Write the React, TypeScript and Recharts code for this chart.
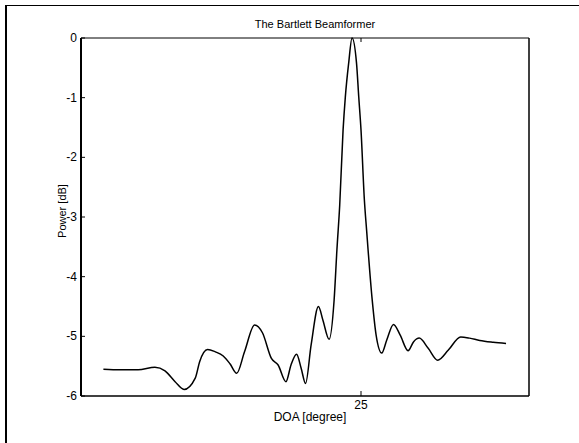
import { LineChart, Line, XAxis, YAxis, Label } from "recharts";

// DOA in degrees, power in dB
const doa: number[] = [
  2.0, 3.5, 5.1, 6.6, 7.5, 8.4, 9.2, 10.2, 10.6, 11.3, 12.0, 12.7, 13.3, 13.9,
  14.6, 15.5, 16.2, 17.0, 17.6, 18.3, 18.75, 19.25, 19.65, 20.05, 20.55, 21.2,
  21.6, 22.15, 22.6, 22.85, 23.1, 23.4, 23.6, 23.9, 24.2, 24.6, 24.8, 25.0,
  25.3, 25.5, 26.0, 26.35, 26.85, 27.3, 27.9, 28.5, 29.2, 29.7, 30.2, 31.0,
  31.85, 32.8, 33.9, 34.7, 35.6, 36.8, 37.95,
];
const power: number[] = [
  -5.55, -5.56, -5.56, -5.52, -5.58, -5.76, -5.89, -5.7, -5.42, -5.22, -5.26,
  -5.33, -5.46, -5.62, -5.26, -4.81, -4.94, -5.37, -5.48, -5.76, -5.48, -5.3,
  -5.53, -5.79, -5.14, -4.5, -4.73, -5.05, -4.39, -3.55, -2.8, -1.54, -0.99,
  -0.42, 0, -0.42, -0.99, -1.54, -2.71, -3.22, -4.39, -4.98, -5.28, -5.06,
  -4.8, -4.98, -5.24, -5.09, -5.03, -5.2, -5.4, -5.23, -5.01, -5.03, -5.07,
  -5.1, -5.12,
];
const yTicks: number[] = [-6, -5, -4, -3, -2, -1, 0];
const xTicks: number[] = [25];

const data = doa.map((d, i) => ({ doa: d, power: power[i] }));

const font = "'Liberation Sans', Arial, sans-serif";

const LeftTick = (props: any) => {
  const { x, y, payload } = props;
  return (
    <g>
      <line x1={x} y1={y} x2={x + 4} y2={y} stroke="#000" />
      <text x={x - 4} y={y} textAnchor="end" dominantBaseline="central" fontSize={12} fontFamily={font} fill="#000">
        {payload.value}
      </text>
    </g>
  );
};

const RightTick = (props: any) => {
  const { x, y } = props;
  return <line x1={x} y1={y} x2={x - 4} y2={y} stroke="#000" />;
};

const BottomTick = (props: any) => {
  const { x, y, payload } = props;
  return (
    <g>
      <line x1={x} y1={y} x2={x} y2={y - 5} stroke="#000" />
      <text x={x} y={y + 9} textAnchor="middle" dominantBaseline="central" fontSize={12} fontFamily={font} fill="#000">
        {payload.value}
      </text>
    </g>
  );
};

const TopTick = (props: any) => {
  const { x, y } = props;
  return <line x1={x} y1={y} x2={x} y2={y + 4} stroke="#000" />;
};

const YLabel = (props: any) => {
  const { viewBox } = props;
  const cx = viewBox.x + 62;
  const cy = viewBox.y + viewBox.height / 2 - 6;
  return (
    <text
      x={cx}
      y={cy}
      transform={`rotate(-90 ${cx} ${cy})`}
      textAnchor="middle"
      dominantBaseline="central"
      fontSize={11}
      fontFamily={font}
      fill="#000"
    >
      Power [dB]
    </text>
  );
};

const textStyle = {
  position: "absolute" as const,
  transform: "translate(-50%, -50%)",
  fontFamily: font,
  color: "#000",
  whiteSpace: "nowrap" as const,
};

export default function App() {
  return (
    <div style={{ position: "absolute", left: 0, top: 0, width: 579, height: 443, background: "#fff" }}>
      <div
        style={{
          position: "absolute",
          left: 5,
          top: 5,
          width: 574,
          height: 438,
          borderTop: "1px solid #000",
          borderLeft: "2px solid #000",
        }}
      />
      <LineChart width={579} height={443} data={data} margin={{ top: 37, right: 49, bottom: 17, left: 0 }}>
        <XAxis
          xAxisId="b"
          dataKey="doa"
          type="number"
          domain={[0, 40]}
          ticks={xTicks}
          height={30}
          tickSize={0}
          tickMargin={0}
          tick={<BottomTick />}
          axisLine={{ stroke: "#000", strokeWidth: 1.5 }}
        />
        <XAxis
          xAxisId="t"
          orientation="top"
          dataKey="doa"
          type="number"
          domain={[0, 40]}
          ticks={xTicks}
          height={1}
          tickSize={0}
          tickMargin={0}
          tick={<TopTick />}
          axisLine={{ stroke: "#000", strokeWidth: 1 }}
        />
        <YAxis
          yAxisId="l"
          domain={[-6, 0]}
          ticks={yTicks}
          width={81}
          tickSize={0}
          tickMargin={0}
          tick={<LeftTick />}
          axisLine={{ stroke: "#000", strokeWidth: 2 }}
        >
          <Label content={<YLabel />} />
        </YAxis>
        <YAxis
          yAxisId="r"
          orientation="right"
          domain={[-6, 0]}
          ticks={yTicks}
          width={1}
          tickSize={0}
          tickMargin={0}
          tick={<RightTick />}
          axisLine={{ stroke: "#000", strokeWidth: 1.5 }}
        />
        <Line
          xAxisId="b"
          yAxisId="l"
          type="monotone"
          dataKey="power"
          stroke="#000"
          strokeWidth={1.5}
          dot={false}
          isAnimationActive={false}
        />
      </LineChart>
      <div style={{ ...textStyle, left: 315, top: 24, fontSize: 11 }}>The Bartlett Beamformer</div>
      <div style={{ ...textStyle, left: 310, top: 417, fontSize: 12 }}>DOA [degree]</div>
    </div>
  );
}
